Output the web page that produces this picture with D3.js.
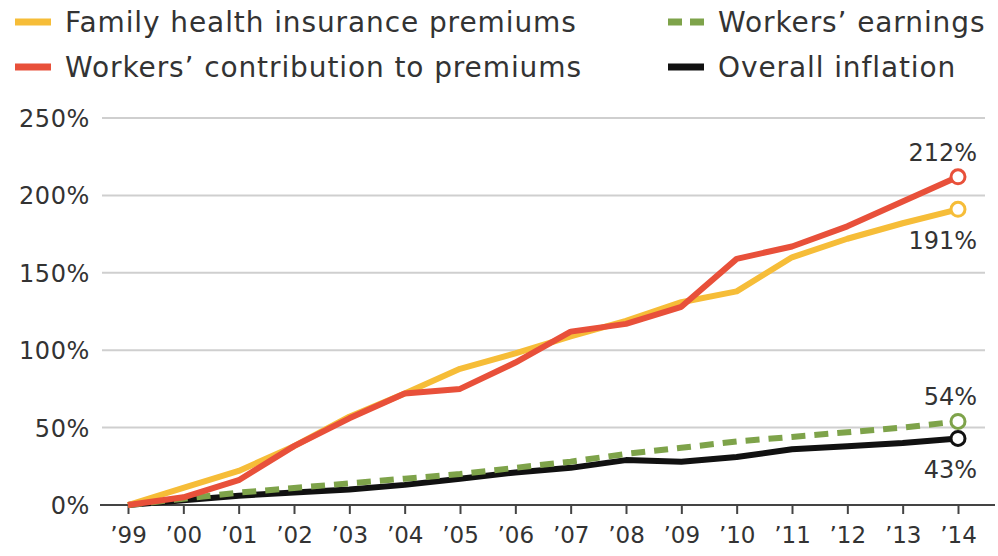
<!DOCTYPE html>
<html lang="en">
<head>
  <meta charset="UTF-8">
  <title>Cumulative increases</title>
  <style>
    body { margin: 0; background: #fff; }
    text { font-family: "DejaVu Sans", "Noto Sans", sans-serif; fill: #333; }
  </style>
</head>
<body>
  <script src="https://d3js.org/d3.v7.min.js"></script>
  <script>
    // data
    const years = ['99', '00', '01', '02', '03', '04', '05', '06', '07', '08', '09', '10', '11', '12', '13', '14'];
    const premiums = [0, 11, 22, 38, 57, 72, 88, 98, 109, 119, 131, 138, 160, 172, 182, 191];
    const contributions = [0, 5, 16, 38, 56, 72, 75, 92, 112, 117, 128, 159, 167, 180, 196, 212];
    const earnings = [0, 4, 8, 11, 14, 17, 20, 24, 28, 33, 37, 41, 44, 47, 50, 54];
    const inflation = [0, 3, 6, 8, 10, 13, 17, 21, 24, 29, 28, 31, 36, 38, 40, 43];
    const yTicks = [0, 50, 100, 150, 200, 250];

    const series = [
      { name: 'Family health insurance premiums', values: premiums, color: '#f6bd38', dash: null, label: '191%', labelDy: 40 },
      { name: 'Workers\u2019 contribution to premiums', values: contributions, color: '#e8503a', dash: null, label: '212%', labelDy: -16 },
      { name: 'Workers\u2019 earnings', values: earnings, color: '#7ea34a', dash: '14,9', label: '54%', labelDy: -16 },
      { name: 'Overall inflation', values: inflation, color: '#111', dash: null, label: '43%', labelDy: 40 }
    ];

    const width = 998;
    const height = 556;

    const svg = d3.select('body')
                  .append('svg')
                  .attr('width', width)
                  .attr('height', height);

    const x = d3.scalePoint()
                .domain(years)
                .range([128, 958]);
    const y = d3.scaleLinear()
                .domain([0, 250])
                .range([505, 118]);

    // grid
    svg.append('g')
        .selectAll('line')
        .data(yTicks.filter(d => d > 0))
        .enter()
        .append('line')
        .attr('x1', 102)
        .attr('x2', 985)
        .attr('y1', d => y(d))
        .attr('y2', d => y(d))
        .attr('stroke', '#cfcfcf')
        .attr('stroke-width', 2);

    // y labels
    const yAxis = d3.axisLeft(y)
                    .tickValues(yTicks)
                    .tickSize(0)
                    .tickPadding(10)
                    .tickFormat(d => d + '%');
    svg.append('g')
        .attr('transform', 'translate(100,0)')
        .call(yAxis)
        .call(g => g.select('.domain').remove())
        .selectAll('text')
        .attr('font-family', '"DejaVu Sans", sans-serif')
        .attr('font-size', 24)
        .attr('letter-spacing', 0.6)
        .attr('fill', '#333')
        .attr('dy', '0.35em');

    // x axis
    const xAxis = d3.axisBottom(x)
                    .tickSize(9)
                    .tickPadding(13)
                    .tickFormat(d => '\u2019' + d);
    const gx = svg.append('g')
        .attr('transform', 'translate(0,' + y(0) + ')')
        .call(xAxis);
    gx.select('.domain')
        .attr('d', 'M100,0H995')
        .attr('stroke', '#444')
        .attr('stroke-width', 2);
    gx.selectAll('.tick line')
        .attr('stroke', '#444')
        .attr('stroke-width', 2);
    gx.selectAll('text')
        .attr('font-family', '"DejaVu Sans", sans-serif')
        .attr('font-size', 23)
        .attr('fill', '#333');

    // lines
    const line = d3.line()
                   .x((d, i) => x(years[i]))
                   .y(d => y(d));

    // draw inflation first so earnings dashes sit over it, then the two premium lines
    const order = [3, 2, 0, 1];
    order.forEach(k => {
      const s = series[k];
      svg.append('path')
          .datum(s.values)
          .attr('d', line)
          .attr('fill', 'none')
          .attr('stroke', s.color)
          .attr('stroke-width', 6)
          .attr('stroke-linejoin', 'round')
          .attr('stroke-dasharray', s.dash);
    });

    // end markers and labels
    series.forEach(s => {
      const last = s.values[s.values.length - 1];
      svg.append('circle')
          .attr('cx', x(years[years.length - 1]))
          .attr('cy', y(last))
          .attr('r', 7)
          .attr('fill', '#fff')
          .attr('stroke', s.color)
          .attr('stroke-width', 3);
      svg.append('text')
          .attr('x', 977)
          .attr('y', y(last) + s.labelDy)
          .attr('text-anchor', 'end')
          .attr('font-size', 24)
          .text(s.label);
    });

    // legend
    const legend = [
      { s: series[0], x: 15, y: 22 },
      { s: series[1], x: 15, y: 67 },
      { s: series[2], x: 668, y: 22 },
      { s: series[3], x: 668, y: 67 }
    ];
    legend.forEach(l => {
      svg.append('line')
          .attr('x1', l.x)
          .attr('x2', l.x + 36)
          .attr('y1', l.y)
          .attr('y2', l.y)
          .attr('stroke', l.s.color)
          .attr('stroke-width', 7)
          .attr('stroke-dasharray', l.s.dash ? '14,8' : null);
      svg.append('text')
          .attr('x', l.x + 50)
          .attr('y', l.y)
          .attr('dy', '0.35em')
          .attr('font-size', 28)
          .attr('letter-spacing', 0.9)
          .text(l.s.name);
    });
  </script>
</body>
</html>
